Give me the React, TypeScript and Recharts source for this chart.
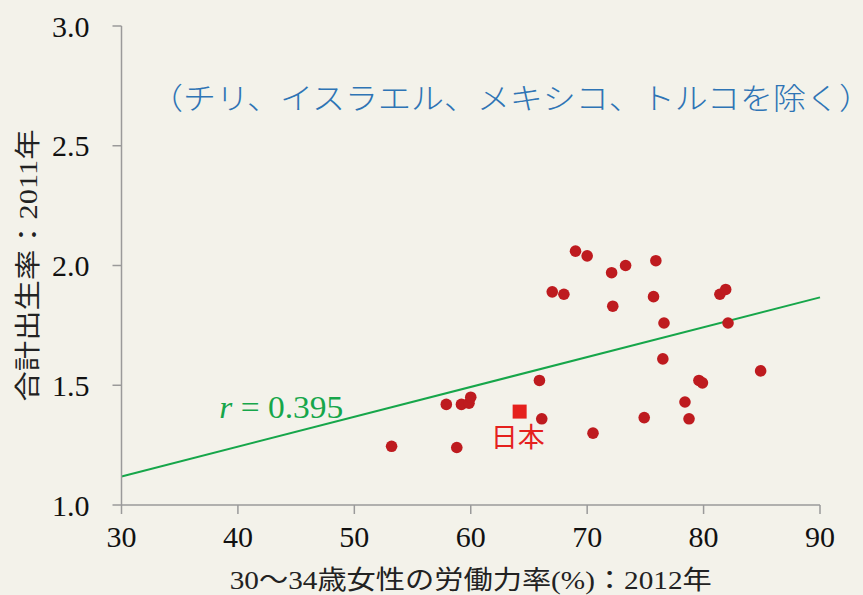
import { ScatterChart, Scatter, XAxis, YAxis, ReferenceLine, ReferenceDot, LabelList, Label } from "recharts";

// 30-34歳女性の労働力率(%) / 合計出生率 (OECD, 日本以外)
const laborRate = [69.0, 70.0, 72.1, 73.3, 75.9, 67.0, 68.0, 72.2, 75.7, 81.4, 81.9, 76.6, 82.1, 76.5, 84.9, 65.9, 79.6, 79.9, 78.4, 57.9, 59.2, 59.85, 60.0, 66.1, 74.9, 78.75, 70.5, 53.2, 58.8];
const fertility = [2.06, 2.04, 1.97, 2.0, 2.02, 1.89, 1.88, 1.83, 1.87, 1.88, 1.9, 1.76, 1.76, 1.61, 1.56, 1.52, 1.52, 1.51, 1.43, 1.42, 1.42, 1.425, 1.45, 1.36, 1.365, 1.36, 1.3, 1.245, 1.24];
const japanX = [64.2];
const japanY = [1.39];
const trendX = [30, 90];
const trendY = [1.119, 1.867];
const xTicks = [30, 40, 50, 60, 70, 80, 90];
const yTicks = [1.0, 1.5, 2.0, 2.5, 3.0];

const points = laborRate.map((x, i) => ({ x, y: fertility[i] }));
const japan = japanX.map((x, i) => ({ x, y: japanY[i], name: "日本" }));

const SERIF = '"Liberation Serif", "DejaVu Serif", serif';
const JP = '"Liberation Serif", "Noto Sans CJK JP", serif';
const BG = "#f3f2ea";
const AXIS = "#9a9a9a";

const Dot = (p: any) => <circle cx={p.cx} cy={p.cy} r={5.8} fill="#be1b1f" />;
const Square = (p: any) => <rect x={p.cx - 7} y={p.cy - 7} width={14} height={14} fill="#e5211d" />;

export default function App() {
  return (
    <div style={{ position: "absolute", left: 0, top: 0, width: 863, height: 595, background: BG }}>
      <ScatterChart width={863} height={595} margin={{ top: 26, right: 43, bottom: 0, left: 0 }}>
        <XAxis
          type="number"
          dataKey="x"
          domain={[30, 90]}
          ticks={xTicks}
          stroke={AXIS}
          strokeWidth={1.5}
          tickSize={9}
          tickMargin={12}
          height={90}
          tick={{ fill: "#111", fontSize: 30, fontFamily: SERIF }}
        >
          <Label
            content={(props: any) => {
              const vb = props.viewBox;
              return (
                <text
                  x={vb.x + vb.width / 2}
                  y={580}
                  textAnchor="middle"
                  dominantBaseline="central"
                  fontSize={26}
                  fontFamily={JP}
                  fill="#222"
                  textLength={482}
                  lengthAdjust="spacingAndGlyphs"
                >
                  30〜34歳女性の労働力率(%)：2012年
                </text>
              );
            }}
          />
        </XAxis>
        <YAxis
          type="number"
          dataKey="y"
          domain={[1, 3]}
          ticks={yTicks}
          stroke={AXIS}
          strokeWidth={1.5}
          tickSize={9}
          tickMargin={23}
          width={121.5}
          tickFormatter={(v: number) => v.toFixed(1)}
          tick={{ fill: "#111", fontSize: 30, fontFamily: SERIF }}
        >
          <Label
            content={(props: any) => {
              const vb = props.viewBox;
              const cy = vb.y + vb.height / 2;
              return (
                <text
                  x={28}
                  y={cy}
                  transform={`rotate(-90, 28, ${cy})`}
                  textAnchor="middle"
                  dominantBaseline="central"
                  fontSize={26}
                  fontFamily={JP}
                  fill="#222"
                  textLength={272}
                  lengthAdjust="spacingAndGlyphs"
                >
                  合計出生率：2011年
                </text>
              );
            }}
          />
        </YAxis>
        <ReferenceLine
          segment={[
            { x: trendX[0], y: trendY[0] },
            { x: trendX[1], y: trendY[1] },
          ]}
          stroke="#16a64a"
          strokeWidth={2}
        />
        <Scatter data={points} fill="#be1b1f" shape={Dot} isAnimationActive={false} />
        <Scatter data={japan} fill="#e5211d" shape={Square} isAnimationActive={false}>
          <LabelList
            dataKey="name"
            content={(p: any) => (
              <text
                x={p.x + p.width / 2 - 2}
                y={p.y + p.height / 2 + 24}
                textAnchor="middle"
                dominantBaseline="central"
                fontSize={27}
                fontFamily='"Noto Sans CJK JP", sans-serif'
                fill="#e5211d"
              >
                {p.value}
              </text>
            )}
          />
        </Scatter>
        <ReferenceDot
          x={38.4}
          y={1.408}
          r={0}
          fill="none"
          stroke="none"
          label={(p: any) => (
            <text
              x={p.viewBox.x}
              y={p.viewBox.y}
              dominantBaseline="central"
              fontSize={32}
              fontFamily={SERIF}
              fill="#16a64a"
              textLength={124}
              lengthAdjust="spacingAndGlyphs"
            >
              <tspan fontStyle="italic">r</tspan> = 0.395
            </text>
          )}
        />
        <ReferenceDot
          x={32.45}
          y={2.707}
          r={0}
          fill="none"
          stroke="none"
          label={(p: any) => (
            <text
              x={p.viewBox.x}
              y={p.viewBox.y}
              dominantBaseline="central"
              fontSize={30}
              fontFamily='"Noto Sans CJK JP", sans-serif'
              fontWeight={300}
              fill="#2e74b5"
              textLength={722}
              lengthAdjust="spacingAndGlyphs"
            >
              （チリ、イスラエル、メキシコ、トルコを除く）
            </text>
          )}
        />
      </ScatterChart>
    </div>
  );
}
